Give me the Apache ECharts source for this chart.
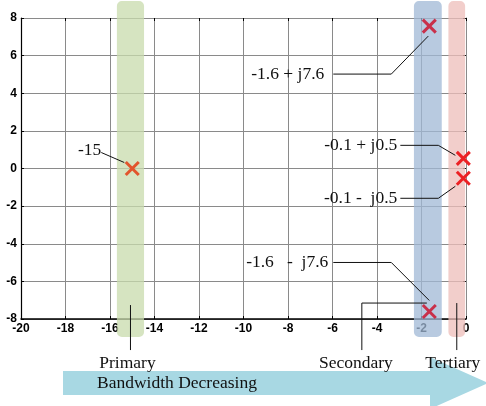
<!DOCTYPE html>
<html><head><meta charset="utf-8">
<script src="https://cdn.jsdelivr.net/npm/echarts@6/dist/echarts.min.js"></script>
<style>html,body{margin:0;padding:0;background:#fff}#c{width:486px;height:406px}</style>
</head><body><div id="c"></div>
<script>
// Data
const poleNames = ['-15', '-1.6 + j7.6', '-1.6   -  j7.6', '-0.1 + j0.5', '-0.1 -  j0.5'];
const poleRe = [-15, -1.65, -1.65, -0.12, -0.12];
const poleIm = [0, 7.57, -7.6, 0.54, -0.52];
const poleColors = ['#e2552c', '#c9304a', '#c9304a', '#ec2124', '#ec2124'];
const bandNames = ['Primary', 'Secondary', 'Tertiary'];
const bandX0 = [-15.69, -2.34, -0.79];
const bandX1 = [-14.47, -1.09, -0.04];
const bandY0 = [-8.96, -8.96, -8.96];
const bandY1 = [8.9, 8.9, 8.9];
const bandColors = ['rgba(200,219,172,0.75)', 'rgba(160,184,213,0.75)', 'rgba(237,190,186,0.75)'];

const chart = echarts.init(document.getElementById('c'), null, {renderer: 'canvas'});
const serif = '"Liberation Serif", "Times New Roman", serif';
const lblStyle = {fontFamily: 'Liberation Sans, Arial', fontWeight: 'bold', fontSize: 12, color: '#000'};

const bandData = bandNames.map((n, i) => [bandX0[i], bandX1[i], bandY0[i], bandY1[i], i]);
const poleData = poleRe.map((r, i) => [r, poleIm[i], i]);

chart.setOption({
  animation: false,
  grid: {left: 21, right: 20, top: 18, bottom: 87},
  xAxis: [{
    type: 'value', min: -20, max: 0, interval: 2,
    axisLine: {onZero: false, lineStyle: {color: '#000', width: 1.5}},
    axisTick: {inside: true, length: 3, lineStyle: {color: '#000'}},
    axisLabel: Object.assign({margin: 4}, lblStyle),
    splitLine: {show: true, lineStyle: {color: '#8a8a8a', width: 1}}
  }, {
    type: 'value', min: -20, max: 0, interval: 2, position: 'top',
    axisLine: {onZero: false, lineStyle: {color: '#8a8a8a'}},
    axisTick: {inside: true, length: 3, lineStyle: {color: '#000'}},
    axisLabel: {show: false}, splitLine: {show: false}
  }],
  yAxis: [{
    type: 'value', min: -8, max: 8, interval: 2,
    axisLine: {onZero: false, lineStyle: {color: '#000', width: 1.2}},
    axisTick: {inside: true, length: 3, lineStyle: {color: '#000'}},
    axisLabel: Object.assign({margin: 4}, lblStyle),
    splitLine: {show: true, lineStyle: {color: '#8a8a8a', width: 1}}
  }, {
    type: 'value', min: -8, max: 8, interval: 2, position: 'right',
    axisLine: {show: true, onZero: false, lineStyle: {color: '#8a8a8a'}},
    axisTick: {show: true, inside: true, length: 3, lineStyle: {color: '#000'}},
    axisLabel: {show: false}, splitLine: {show: false}
  }],
  series: [{
    type: 'custom', clip: false, z: 3,
    data: bandData,
    renderItem: function (params, api) {
      const p0 = api.coord([api.value(0), api.value(3)]);
      const p1 = api.coord([api.value(1), api.value(2)]);
      return {type: 'rect', shape: {x: p0[0], y: p0[1], width: p1[0] - p0[0], height: p1[1] - p0[1], r: 5},
        style: {fill: bandColors[api.value(4)]}};
    }
  }, {
    type: 'custom', clip: false, z: 5,
    data: poleData,
    renderItem: function (params, api) {
      const p = api.coord([api.value(0), api.value(1)]);
      const s = 6.5;
      const col = poleColors[api.value(2)];
      return {type: 'group', children: [
        {type: 'line', shape: {x1: p[0] - s, y1: p[1] - s, x2: p[0] + s, y2: p[1] + s}, style: {stroke: col, lineWidth: 3}},
        {type: 'line', shape: {x1: p[0] - s, y1: p[1] + s, x2: p[0] + s, y2: p[1] - s}, style: {stroke: col, lineWidth: 3}}
      ]};
    }
  }]
});

// annotations anchored to the data
const P = i => chart.convertToPixel({xAxisIndex: 0, yAxisIndex: 0}, [poleRe[i], poleIm[i]]);
const B = i => chart.convertToPixel({xAxisIndex: 0, yAxisIndex: 0}, [(bandX0[i] + bandX1[i]) / 2, bandY0[i]]);
const g = [];
const txt = (x, y, s, align, size) => g.push({type: 'text', x: x, y: y, z: 10,
  style: {text: s, fill: '#111', font: (size || 17.5) + 'px ' + serif, textAlign: align || 'right', textVerticalAlign: 'middle'}});
const pl = (pts) => g.push({type: 'polyline', z: 10, shape: {points: pts}, style: {stroke: '#111', lineWidth: 1, fill: null}});

let p = P(0);
txt(p[0] - 31, p[1] - 18, poleNames[0]);
pl([[p[0] - 31, p[1] - 16], [p[0] - 8, p[1] - 6]]);
p = P(1);
txt(p[0] - 105, p[1] + 48, poleNames[1]);
pl([[p[0] - 96, p[1] + 48], [p[0] - 38, p[1] + 48], [p[0] - 1, p[1] + 10]]);
p = P(2);
txt(p[0] - 101, p[1] - 49, poleNames[2]);
pl([[p[0] - 96, p[1] - 49], [p[0] - 38, p[1] - 49], [p[0], p[1] - 11]]);
p = P(3);
txt(p[0] - 66, p[1] - 13, poleNames[3]);
pl([[p[0] - 63, p[1] - 13], [p[0] - 25, p[1] - 13], [p[0] - 8, p[1] - 3]]);
p = P(4);
txt(p[0] - 66, p[1] + 20, poleNames[4]);
pl([[p[0] - 63, p[1] + 20], [p[0] - 25, p[1] + 20], [p[0] - 8, p[1] + 8]]);

// band labels
let b = B(0);
pl([[b[0], b[1] - 32], [b[0], b[1] + 13]]);
txt(b[0] - 3, b[1] + 26, bandNames[0], 'center');
b = B(1);
pl([[b[0] - 1, b[1] - 34], [b[0] - 66, b[1] - 34], [b[0] - 66, b[1] + 13]]);
txt(b[0] - 72, b[1] + 26, bandNames[1], 'center');
b = B(2);
pl([[b[0], b[1] - 34], [b[0], b[1] + 13]]);
txt(b[0] - 4, b[1] + 26, bandNames[2], 'center');

// arrow
g.push({type: 'polygon', z: 1, shape: {points: [[63, 371], [430, 371], [430, 357], [488, 383], [430, 409], [430, 395], [63, 395]]},
  style: {fill: '#a8d8e3'}});
txt(97, 383, 'Bandwidth Decreasing', 'left');

chart.setOption({graphic: g});
</script>
</body></html>
